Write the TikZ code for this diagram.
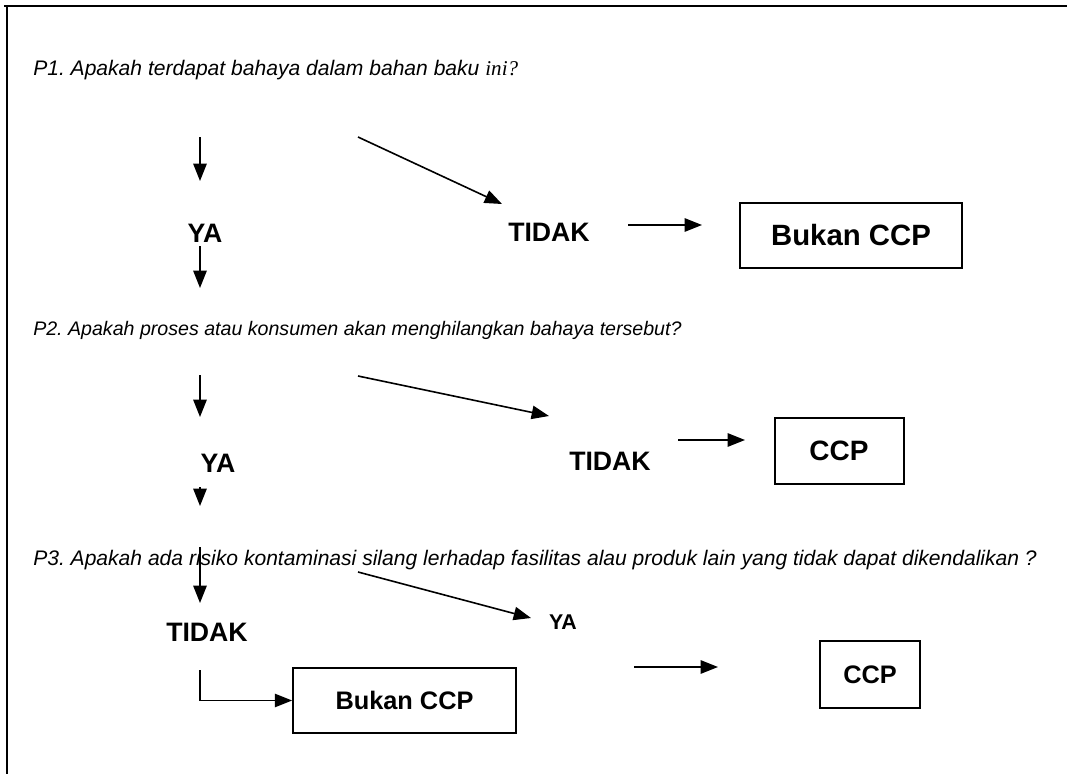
\documentclass[tikz,border=0pt]{standalone}
\usepackage{fontspec}
\setmainfont{Liberation Sans}
\newfontfamily\serifit{Liberation Serif}
\usetikzlibrary{arrows.meta}
\frenchspacing
\tikzset{
  q/.style={anchor=base west, inner sep=0pt, font=\itshape\fontsize{15.8}{19}\selectfont},
  lab/.style={inner sep=0pt, font=\bfseries\fontsize{20}{24}\selectfont},
  arr/.style={line width=1.2pt, -{Triangle[length=13pt,width=10pt]}},
  boxed/.style={draw, line width=1.5pt},
}
\begin{document}
\begin{tikzpicture}[x=0.75pt,y=-0.75pt]
\useasboundingbox (0,0) rectangle (1067,774);
\draw[line width=1.8pt] (4,6) -- (1067,6);
\draw[line width=1.5pt] (7,6) -- (7,774);
% P1
\node[q] (p1) at (33,76) {P1. Apakah terdapat bahaya dalam bahan baku {\serifit\itshape ini?}};
\coordinate (a1s) at (200,137); \coordinate (a1e) at (200,181);
\draw[arr] (a1s) -- (a1e);
\coordinate (d1s) at (358,137); \coordinate (d1e) at (502,204);
\draw[arr] (d1s) -- (d1e);
\node[lab] (ya1) at (205,233) {YA};
\node[lab] (tidak1) at (549,232) {TIDAK};
\node[boxed, minimum width=166.5pt, minimum height=48.75pt, font=\bfseries\fontsize{22}{26}\selectfont] (b1) at (851,235.5) {Bukan CCP};
\coordinate (t1a) at (628,225); \coordinate (t1b) at (702,225);
\draw[arr] (t1a) -- (t1b);
\coordinate (a2s) at (200,246); \coordinate (a2e) at (200,288);
\draw[arr] (a2s) -- (a2e);
% P2
\node[q, font=\itshape\fontsize{14.7}{18}\selectfont] (p2) at (33,335) {P2. Apakah proses atau konsumen akan menghilangkan bahaya tersebut?};
\coordinate (a3s) at (200,375); \coordinate (a3e) at (200,417);
\draw[arr] (a3s) -- (a3e);
\coordinate (d2s) at (358,376); \coordinate (d2e) at (549,416);
\draw[arr] (d2s) -- (d2e);
\node[lab] (ya2) at (218,463) {YA};
\node[lab] (tidak2) at (610,461) {TIDAK};
\node[boxed, minimum width=96.75pt, minimum height=49.5pt, font=\bfseries\fontsize{21}{25}\selectfont] (c2) at (839,451) {CCP};
\coordinate (t2a) at (678,440); \coordinate (t2b) at (745,440);
\draw[arr] (t2a) -- (t2b);
\coordinate (a4s) at (200,487); \coordinate (a4e) at (200,506);
\draw[arr] (a4s) -- (a4e);
% P3
\node[q] (p3) at (33,565) {P3. Apakah ada risiko kontaminasi silang lerhadap fasilitas alau produk lain yang tidak dapat dikendalikan ?};
\coordinate (a5s) at (200,547); \coordinate (a5e) at (200,603);
\draw[arr] (a5s) -- (a5e);
\coordinate (d3s) at (358,572); \coordinate (d3e) at (531,618);
\draw[arr] (d3s) -- (d3e);
\node[lab] (tidak3) at (207,632) {TIDAK};
\node[lab, font=\bfseries\fontsize{16}{20}\selectfont] (ya3) at (563,622) {YA};
\node[boxed, minimum width=167pt, minimum height=48.75pt, font=\bfseries\fontsize{19}{23}\selectfont] (b3) at (404.5,700.5) {Bukan CCP};
\node[boxed, minimum width=75pt, minimum height=50.25pt, font=\bfseries\fontsize{19}{23}\selectfont] (c3) at (870,674.5) {CCP};
\coordinate (e3s) at (200,670);
\draw[arr] (e3s) |- (b3.west);
\coordinate (t3a) at (634,667); \coordinate (t3b) at (718,667);
\draw[arr] (t3a) -- (t3b);
\end{tikzpicture}
\end{document}
